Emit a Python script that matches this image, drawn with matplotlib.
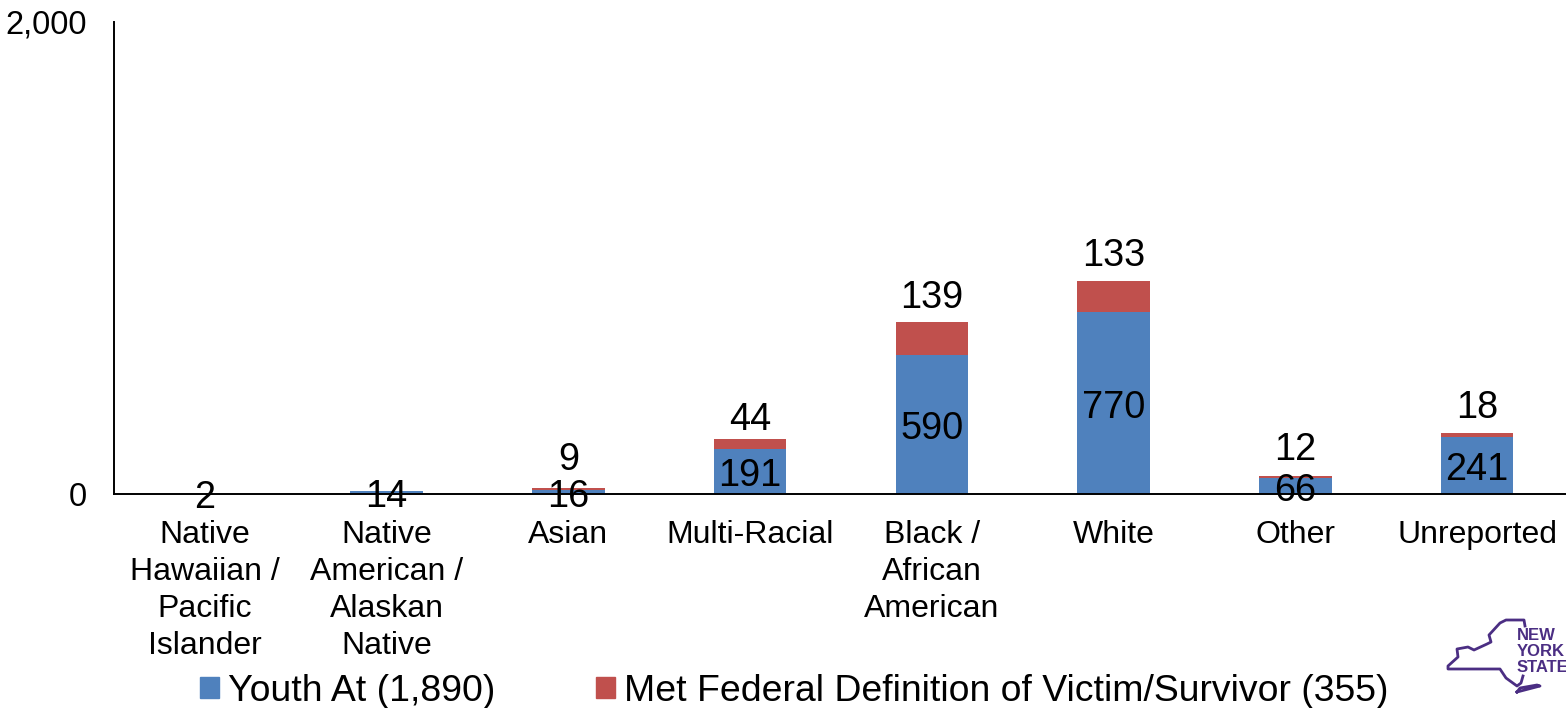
import matplotlib
matplotlib.use("Agg")
import matplotlib.pyplot as plt
import numpy as np
from matplotlib.patches import Patch

categories = ["Native\nHawaiian /\nPacific\nIslander", "Native\nAmerican /\nAlaskan\nNative",
              "Asian", "Multi-Racial", "Black /\nAfrican\nAmerican", "White", "Other", "Unreported"]
youth_at = [2, 14, 16, 191, 590, 770, 66, 241]
met_federal = [0, 0, 9, 44, 139, 133, 12, 18]
red_labels = ["", "", "9", "44", "139", "133", "12", "18"]
legend_labels = ["Youth At (1,890)", "Met Federal Definition of Victim/Survivor (355)"]

# the red labels do not all sit at the same distance above their bar
red_label_offset = [18, 18, 20, 13, 17.5, 18, 18.5, 18]

# logo outline in pixels
logo_x = [1525, 1524, 1506, 1500, 1489, 1491, 1487, 1474, 1468, 1457, 1458, 1448, 1448, 1500, 1506, 1517, 1521, 1523]
logo_y = [626, 620, 620, 623, 635, 642, 644, 650, 647, 649, 657, 666, 669, 669, 678, 686, 683, 676]
island_x = [1517, 1540, 1537, 1520, 1517]
island_y = [692, 686, 685, 688, 692]

BLUE = "#4f81bd"
RED = "#c0504d"
PURPLE = "#4b2e83"
W, H = 1566, 708

plt.rcParams["font.family"] = ["Liberation Sans", "DejaVu Sans"]
fig = plt.figure(figsize=(W / 100, H / 100), dpi=100)
ax = fig.add_axes([114 / W, 1 - 494 / H, 1454 / W, 472 / H])

x = np.arange(len(categories))
ax.bar(x, youth_at, width=0.4, color=BLUE)
ax.bar(x, met_federal, width=0.4, bottom=youth_at, color=RED)

ax.set_xlim(-0.5, len(categories) - 0.5)
ax.set_ylim(0, 2000)
ax.set_yticks([0, 2000], ["0", "2,000"], fontsize=23.5)
ax.set_xticks(x, categories, fontsize=23, linespacing=1.3)
ax.tick_params(axis="both", length=0, colors="black")
ax.tick_params(axis="x", pad=18.7)
ax.tick_params(axis="y", pad=19.5)
for side in ["top", "right"]:
    ax.spines[side].set_visible(False)
for side in ["left", "bottom"]:
    ax.spines[side].set_linewidth(1.4)
    ax.spines[side].set_zorder(1.5)

for i, (y, r, lab) in enumerate(zip(youth_at, met_federal, red_labels)):
    ax.annotate(str(y), (i, y / 2), xytext=(0, -3.2), textcoords="offset points",
                ha="center", va="center", fontsize=27.3, zorder=5)
    if lab:
        ax.annotate(lab, (i, y + r), xytext=(0, red_label_offset[i]), textcoords="offset points",
                    ha="center", va="center", fontsize=27.3, zorder=5)

handles = [Patch(color=BLUE), Patch(color=RED)]
fig.legend(handles, legend_labels, loc="lower left", bbox_to_anchor=(200 / W, -1 / H),
           ncol=2, frameon=False, fontsize=26.9, handlelength=0.5, handleheight=0.5,
           handletextpad=0.25, columnspacing=2.7, borderpad=0, borderaxespad=0)

# logo drawn in pixel coordinates
logo = fig.add_axes([0, 0, 1, 1], facecolor="none")
logo.set_xlim(0, W)
logo.set_ylim(H, 0)
logo.axis("off")
logo.plot(logo_x, logo_y, color=PURPLE, lw=2)
logo.plot(island_x, island_y, color=PURPLE, lw=2)
for yy, word in zip([635, 651, 667], ["NEW", "YORK", "STATE"]):
    logo.text(1517, yy, word, color=PURPLE, fontsize=12, fontweight="bold",
              va="center", ha="left", clip_on=True)

fig.savefig("out.png", dpi=100)
